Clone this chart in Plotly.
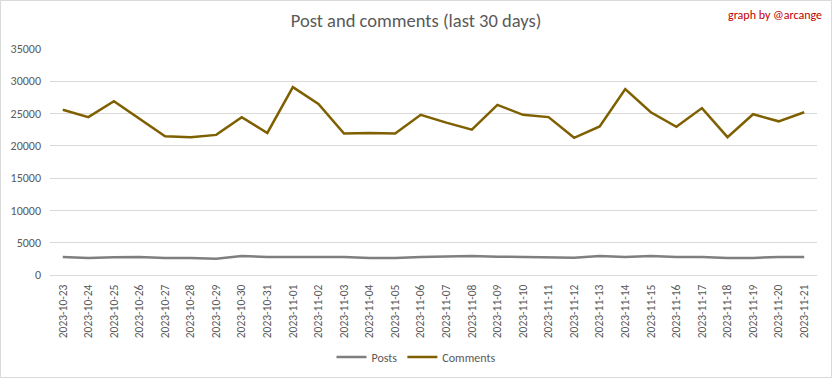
import plotly.graph_objects as go

dates = [
    "2023-10-23", "2023-10-24", "2023-10-25", "2023-10-26", "2023-10-27", "2023-10-28",
    "2023-10-29", "2023-10-30", "2023-10-31", "2023-11-01", "2023-11-02", "2023-11-03",
    "2023-11-04", "2023-11-05", "2023-11-06", "2023-11-07", "2023-11-08", "2023-11-09",
    "2023-11-10", "2023-11-11", "2023-11-12", "2023-11-13", "2023-11-14", "2023-11-15",
    "2023-11-16", "2023-11-17", "2023-11-18", "2023-11-19", "2023-11-20", "2023-11-21",
]
posts = [
    2800, 2650, 2750, 2780, 2650, 2650, 2500, 2940, 2780, 2780, 2780, 2780,
    2650, 2650, 2800, 2890, 2940, 2840, 2780, 2680, 2680, 2940, 2780, 2940,
    2780, 2780, 2650, 2650, 2780, 2780,
]
comments = [
    25600, 24450, 26900, 24150, 21500, 21350, 21700, 24450, 22000, 29100, 26500, 21900,
    22000, 21900, 24800, 23600, 22500, 26350, 24800, 24450, 21250, 23000, 28800, 25200,
    22950, 25850, 21350, 24900, 23800, 25200,
]
y_ticks = [0, 5000, 10000, 15000, 20000, 25000, 30000, 35000]
y_labels = ["0", "5000", "10000", "15000", "20000", "25000", "30000", "35000"]

FONT = "Carlito, Calibri, Lato, sans-serif"
GRAY = "#595959"

W, H = 832, 378
L, R, T, B = 50, 15, 49, 103
pw, ph = W - L - R, H - T - B

fig = go.Figure()
fig.add_trace(go.Scatter(x=dates, y=posts, name="Posts", mode="lines",
                         line=dict(color="#7f7f7f", width=2.5)))
fig.add_trace(go.Scatter(x=dates, y=comments, name="Comments", mode="lines",
                         line=dict(color="#7f6000", width=2.5)))

fig.update_layout(
    width=W, height=H,
    margin=dict(l=L, r=R, t=T, b=B, autoexpand=False),
    paper_bgcolor="white", plot_bgcolor="white",
    font=dict(family=FONT, size=12, color=GRAY),
    title=dict(text="Post and comments (last 30 days)", x=0.5, xref="container",
               y=1 - 21 / H, yref="container", xanchor="center", yanchor="middle",
               font=dict(family=FONT, size=18.5, color=GRAY, weight=300)),
    showlegend=True,
    legend=dict(orientation="h", xref="container", yref="container",
                x=0.5, xanchor="center", y=1 - 357 / H, yanchor="middle",
                font=dict(family=FONT, size=12, color=GRAY),
                tracegroupgap=0),
    xaxis=dict(type="category", range=[-0.5, len(dates) - 0.5], tickangle=-90,
               showgrid=False, showline=True, linecolor="#d9d9d9", linewidth=1,
               ticks="", tickfont=dict(family=FONT, size=11.5, color=GRAY),
               ticklabelstandoff=4, zeroline=False, automargin=False),
    yaxis=dict(range=[0, 35000], tickvals=y_ticks, ticktext=y_labels, showgrid=True,
               gridcolor="#d9d9d9", gridwidth=1, zeroline=False, showline=False,
               ticks="", tickfont=dict(family=FONT, size=12, color=GRAY),
               ticklabelstandoff=8, automargin=False),
    annotations=[dict(text="graph by @arcange", xref="paper", yref="paper",
                      x=(824 - L) / pw, y=(H - B - 15) / ph, xanchor="right",
                      yanchor="middle", showarrow=False,
                      font=dict(family=FONT, size=12, color="#c00000"))],
    shapes=[dict(type="rect", xref="paper", yref="paper",
                 x0=(0.5 - L) / pw, x1=(W - 0.5 - L) / pw,
                 y0=(H - B - (H - 0.5)) / ph, y1=(H - B - 0.5) / ph,
                 line=dict(color="#d9d9d9", width=1), layer="below")],
)

fig.write_html("out.html", config={"displayModeBar": False},
               post_script="document.body.style.margin='0';document.body.style.overflow='hidden';")
